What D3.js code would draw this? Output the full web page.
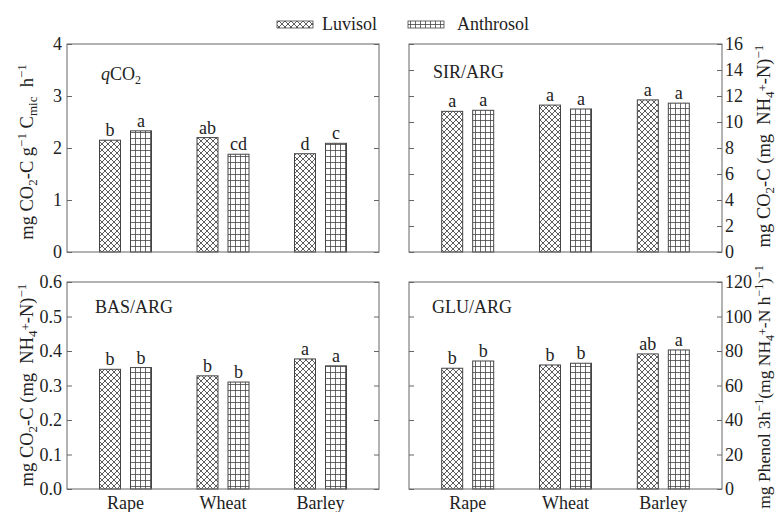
<!DOCTYPE html>
<html>
<head>
<meta charset="utf-8">
<script src="https://cdn.jsdelivr.net/npm/d3@7"></script>
<style>
  html, body { margin: 0; padding: 0; background: #fff; }
  svg { display: block; font-family: "Liberation Serif", "Times New Roman", serif; }
</style>
</head>
<body>
<svg id="chart" width="776" height="512"></svg>
<script>
// Crops and soils
const crops = ["Rape", "Wheat", "Barley"];
const soils = ["Luvisol", "Anthrosol"];

// Values per crop: [Luvisol, Anthrosol]
const qco2Values = [[2.15, 2.33], [2.20, 1.88], [1.89, 2.09]];
const qco2Letters = [["b", "a"], ["ab", "cd"], ["d", "c"]];

const sirValues = [[10.82, 10.9], [11.3, 11.0], [11.7, 11.45]];
const sirLetters = [["a", "a"], ["a", "a"], ["a", "a"]];

const basValues = [[0.347, 0.352], [0.328, 0.310], [0.377, 0.357]];
const basLetters = [["b", "b"], ["b", "b"], ["a", "a"]];

const gluValues = [[70.0, 74.2], [71.9, 72.9], [78.3, 80.6]];
const gluLetters = [["b", "b"], ["b", "b"], ["ab", "a"]];

// Axis ticks
const qco2Ticks = [0, 1, 2, 3, 4];
const sirTicks = [0, 2, 4, 6, 8, 10, 12, 14, 16];
const basTicks = [0, 0.1, 0.2, 0.3, 0.4, 0.5, 0.6];
const gluTicks = [0, 20, 40, 60, 80, 100, 120];

const svg = d3.select("#chart");
const ink = "#222";
const frameColor = "#666";
const fontSize = "18px";

// Hatch patterns
const defs = svg.append("defs");
const cross = defs.append("pattern").attr("id", "pat-luvisol")
  .attr("patternUnits", "userSpaceOnUse").attr("width", 6).attr("height", 6);
cross.append("rect").attr("width", 6).attr("height", 6).attr("fill", "#fff");
cross.append("path").attr("d", "M0,0 L6,6 M6,0 L0,6 M-1,5 L1,7 M5,-1 L7,1 M-1,1 L1,-1 M5,7 L7,5")
  .attr("stroke", "#333").attr("stroke-width", 0.8).attr("fill", "none");

const grid = defs.append("pattern").attr("id", "pat-anthrosol")
  .attr("patternUnits", "userSpaceOnUse").attr("width", 5).attr("height", 6);
grid.append("rect").attr("width", 5).attr("height", 6).attr("fill", "#fff");
grid.append("path").attr("d", "M0.5,0 V6 M0,0.5 H5")
  .attr("stroke", "#444").attr("stroke-width", 0.8).attr("fill", "none");

const fills = { Luvisol: "url(#pat-luvisol)", Anthrosol: "url(#pat-anthrosol)" };

function panel(cfg) {
  const { x0, x1, y0, y1, domain, ticks, fmt, values, letters, name, side } = cfg;
  const g = svg.append("g");

  const x = d3.scalePoint().domain(crops).range([x0, x1]).padding(0.6);
  const xs = d3.scaleBand().domain(soils).range([-26, 26]).paddingInner(10 / 31);
  const y = d3.scaleLinear().domain(domain).range([y1, y0]);

  // inward ticks on both sides, labels on one side
  const left = d3.axisLeft(y).tickValues(ticks).tickSize(-5).tickPadding(5)
    .tickFormat(side === "left" ? fmt : () => "");
  const right = d3.axisRight(y).tickValues(ticks).tickSize(-5).tickPadding(3)
    .tickFormat(side === "right" ? fmt : () => "");

  const la = g.append("g").attr("transform", `translate(${x0},0)`).call(left);
  const ra = g.append("g").attr("transform", `translate(${x1},0)`).call(right);
  [la, ra].forEach(a => {
    a.select(".domain").remove();
    a.selectAll(".tick line").attr("stroke", frameColor);
    a.selectAll(".tick text").attr("fill", ink)
      .style("font-family", "'Liberation Serif', 'Times New Roman', serif")
      .style("font-size", fontSize);
  });

  // bars
  crops.forEach((c, i) => {
    soils.forEach((s, j) => {
      const bx = x(c) + xs(s);
      g.append("rect")
        .attr("x", bx).attr("y", y(values[i][j]))
        .attr("width", xs.bandwidth())
        .attr("height", y(domain[0]) - y(values[i][j]))
        .attr("fill", fills[s]).attr("stroke", "#444").attr("stroke-width", 1);
      g.append("text")
        .attr("x", bx + xs.bandwidth() / 2).attr("y", y(values[i][j]) - 4)
        .attr("text-anchor", "middle").attr("fill", ink)
        .style("font-size", fontSize).text(letters[i][j]);
    });
  });

  // frame
  g.append("rect").attr("x", x0).attr("y", y0)
    .attr("width", x1 - x0).attr("height", y1 - y0)
    .attr("fill", "none").attr("stroke", frameColor).attr("stroke-width", 1);

  // panel name
  const t = g.append("text").attr("x", name.x).attr("y", name.y)
    .attr("fill", ink).style("font-size", fontSize);
  name.parts(t);

  return x;
}

const fmtInt = d3.format("d");
const fmt1 = d3.format(".1f");

panel({ x0: 67, x1: 379, y0: 44, y1: 252, domain: [0, 4], ticks: qco2Ticks, fmt: fmtInt,
  values: qco2Values, letters: qco2Letters, side: "left",
  name: { x: 101, y: 80, parts: t => {
    t.append("tspan").style("font-style", "italic").text("q");
    t.append("tspan").text("CO");
    t.append("tspan").attr("dy", 4).style("font-size", "12px").text("2");
  } } });

panel({ x0: 409, x1: 722, y0: 44, y1: 252, domain: [0, 16], ticks: sirTicks, fmt: fmtInt,
  values: sirValues, letters: sirLetters, side: "right",
  name: { x: 433, y: 78, parts: t => t.text("SIR/ARG") } });

const xb = panel({ x0: 67, x1: 379, y0: 282, y1: 489, domain: [0, 0.6], ticks: basTicks, fmt: fmt1,
  values: basValues, letters: basLetters, side: "left",
  name: { x: 95, y: 313, parts: t => t.text("BAS/ARG") } });

const xg = panel({ x0: 409, x1: 722, y0: 282, y1: 489, domain: [0, 120], ticks: gluTicks, fmt: fmtInt,
  values: gluValues, letters: gluLetters, side: "right",
  name: { x: 432, y: 313, parts: t => t.text("GLU/ARG") } });

// crop labels under the lower panels
[xb, xg].forEach(x => {
  svg.append("g").selectAll("text").data(crops).join("text")
    .attr("x", d => x(d)).attr("y", 509)
    .attr("text-anchor", "middle").attr("fill", ink)
    .style("font-size", fontSize).text(d => d);
});

// axis titles (rotated)
function title(tx, ty, size, parts) {
  const t = svg.append("text")
    .attr("transform", `translate(${tx},${ty}) rotate(-90)`)
    .attr("text-anchor", "middle").attr("fill", ink).style("font-size", size + "px")
    .style("white-space", "pre");
  const small = Math.round(size * 0.68) + "px";
  parts.forEach(([txt, kind]) => {
    const s = t.append("tspan").text(txt);
    if (kind === "sub") s.attr("dy", 4).style("font-size", small);
    if (kind === "sup") s.attr("dy", -7).style("font-size", small);
  });
  // restore baseline after each shifted tspan
  let shift = 0;
  t.selectAll("tspan").each(function () {
    const el = d3.select(this);
    const d = +el.attr("dy") || 0;
    if (d === 0 && shift !== 0) { el.attr("dy", -shift); shift = 0; }
    else shift += d;
  });
}

title(33, 152, 18.5, [["mg CO"], ["2", "sub"], ["-C g"], ["−1", "sup"], [" C"], ["mic", "sub"], ["  h"], ["−1", "sup"]]);
title(33, 385, 18.5, [["mg CO"], ["2", "sub"], ["-C (mg  NH"], ["4", "sub"], ["+", "sup"], ["-N)"], ["−1", "sup"]]);
title(770, 146, 18.5, [["mg CO"], ["2", "sub"], ["-C (mg  NH"], ["4", "sub"], ["+", "sup"], ["-N)"], ["−1", "sup"]]);
title(770, 387, 17.5, [["mg Phenol 3h"], ["−1", "sup"], ["(mg NH"], ["4", "sub"], ["+", "sup"], ["-N h"], ["−1", "sup"], [")"], ["−1", "sup"]]);

// legend
const legend = svg.append("g");
const legendItems = [
  { soil: "Luvisol", sx: 277, tx: 322 },
  { soil: "Anthrosol", sx: 408, tx: 457 }
];
legendItems.forEach(d => {
  legend.append("rect").attr("x", d.sx).attr("y", 21).attr("width", 36).attr("height", 7)
    .attr("fill", fills[d.soil]).attr("stroke", "#444").attr("stroke-width", 0.8);
  legend.append("text").attr("x", d.tx).attr("y", 30).attr("fill", ink)
    .style("font-size", fontSize).text(d.soil);
});
</script>
</body>
</html>
